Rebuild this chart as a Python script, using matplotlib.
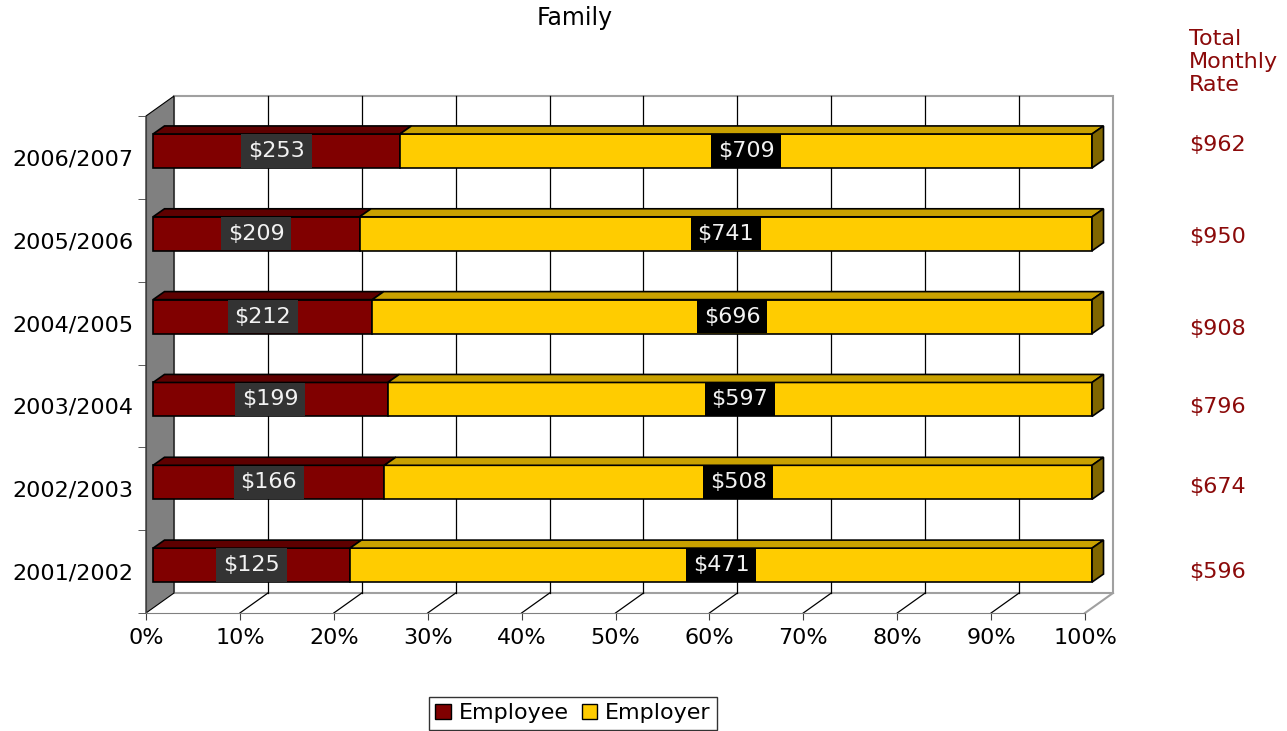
import numpy as np
import matplotlib
matplotlib.use('Agg')
import matplotlib.pyplot as plt
from matplotlib.patches import Polygon, Rectangle, Patch

# data (bottom row first)
years = ['2001/2002', '2002/2003', '2003/2004', '2004/2005', '2005/2006', '2006/2007']
employee = [125, 166, 199, 212, 209, 253]
employer = [471, 508, 597, 696, 741, 709]
totals = [596, 674, 796, 908, 950, 962]
pct_ticks = [0, 10, 20, 30, 40, 50, 60, 70, 80, 90, 100]

# where the hand-placed total text boxes sit (pixel y from top), bottom row first
total_y_px = [572, 487, 407, 329, 237, 145]

W, H = 1287, 731
fig = plt.figure(figsize=(W / 100, H / 100), dpi=100)
ax = fig.add_axes([146 / W, (H - 613) / H, (1085 - 146) / W, (613 - 116) / H])
plt.rcParams['font.family'] = ['DejaVu Sans']

n = len(years)
ax.set_xlim(0, 100)
ax.set_ylim(0, n)

# 3d look: wall depth, bar offset/depth (in data units)
wdx, wdy = 2.98, 0.241
bx, by = 0.75, 0.078
ddx, ddy = 1.22, 0.097
bh = 0.41

emp_c, emp_top = '#800000', '#5E0000'
er_c, er_top, er_side = '#FFCC00', '#C9A100', '#806600'
wall_edge = '#A0A0A0'

# back wall
ax.add_patch(Rectangle((wdx, wdy), 100, n, facecolor='white', edgecolor=wall_edge,
                       lw=1.5, zorder=0, clip_on=False))
# side wall
ax.add_patch(Polygon([(0, 0), (wdx, wdy), (wdx, n + wdy), (0, n)], closed=True,
                     facecolor='#808080', edgecolor='black', lw=0.8, zorder=1, clip_on=False))
# floor right edge
ax.plot([100, 100 + wdx], [0, wdy], color=wall_edge, lw=1.5, zorder=1, clip_on=False)

# grid lines on back wall and floor
for k in pct_ticks[1:-1]:
    ax.plot([k + wdx, k + wdx], [wdy, n + wdy], color='black', lw=0.9, zorder=1, clip_on=False)
    ax.plot([k, k + wdx], [0, wdy], color='black', lw=0.9, zorder=1, clip_on=False)

# bars
for i in range(n):
    tot = employee[i] + employer[i]
    p1 = employee[i] / tot * 100
    p2 = employer[i] / tot * 100
    yc = i + 0.5 + by
    y0, y1 = yc - bh / 2, yc + bh / 2
    ax.barh(yc, p1, left=bx, height=bh, color=emp_c, edgecolor='black', lw=1.2,
            zorder=3, clip_on=False)
    ax.barh(yc, p2, left=bx + p1, height=bh, color=er_c, edgecolor='black', lw=1.2,
            zorder=3, clip_on=False)
    # top faces
    for L, R, c in [(bx, bx + p1, emp_top), (bx + p1, bx + p1 + p2, er_top)]:
        ax.add_patch(Polygon([(L, y1), (R, y1), (R + ddx, y1 + ddy), (L + ddx, y1 + ddy)],
                             closed=True, facecolor=c, edgecolor='black', lw=1.2,
                             zorder=3, clip_on=False))
    # right side
    R = bx + p1 + p2
    ax.add_patch(Polygon([(R, y0), (R, y1), (R + ddx, y1 + ddy), (R + ddx, y0 + ddy)],
                         closed=True, facecolor=er_side, edgecolor='black', lw=1.2,
                         zorder=3, clip_on=False))
    # value labels
    ax.text(bx + p1 / 2, yc, '$%d' % employee[i], ha='center', va='center', fontsize=16,
            color='#F2F2F2', zorder=5,
            bbox=dict(boxstyle='square,pad=0.3', facecolor='#333333', edgecolor='none'))
    ax.text(bx + p1 + p2 / 2, yc, '$%d' % employer[i], ha='center', va='center', fontsize=16,
            color='#F2F2F2', zorder=5,
            bbox=dict(boxstyle='square,pad=0.3', facecolor='black', edgecolor='none'))

# axes
for s in ['top', 'right']:
    ax.spines[s].set_visible(False)
ax.spines['left'].set_color('#404040')
ax.spines['bottom'].set_color('#808080')
ax.spines['left'].set_zorder(2)
ax.spines['bottom'].set_zorder(2)
ax.patch.set_visible(False)

ax.set_xticks(pct_ticks)
ax.set_xticklabels(['%d%%' % k for k in pct_ticks], fontsize=16)
ax.tick_params(axis='x', length=5, color='#404040', pad=6)

ax.set_yticks(np.arange(n) + 0.5)
ax.set_yticklabels(years, fontsize=16)
ax.set_yticks(np.arange(n + 1), minor=True)
ax.tick_params(axis='y', which='major', length=0, pad=9)
ax.tick_params(axis='y', which='minor', length=6, color='#404040')

# title
fig.text(575 / W, 1 - 18 / H, 'Family', ha='center', va='center', fontsize=17)

# totals column
red = '#8B0A0A'
fig.text(1189 / W, 1 - 29 / H, 'Total\nMonthly\nRate', ha='left', va='top', fontsize=16,
         color=red, linespacing=1.2)
for t, ypx in zip(totals, total_y_px):
    fig.text(1189 / W, 1 - ypx / H, '$%d' % t, ha='left', va='center', fontsize=16, color=red)

# legend
handles = [Patch(facecolor=emp_c, edgecolor='black'), Patch(facecolor=er_c, edgecolor='black')]
leg = fig.legend(handles, ['Employee', 'Employer'], loc='lower center',
                 bbox_to_anchor=(573 / W, 0.0), ncol=2, fontsize=16, frameon=True,
                 fancybox=False, edgecolor='black', handlelength=0.7, handleheight=0.7,
                 handletextpad=0.35, columnspacing=0.6, borderpad=0.3, borderaxespad=0.05)
leg.get_frame().set_linewidth(1.0)

fig.savefig('out.png', dpi=100)
